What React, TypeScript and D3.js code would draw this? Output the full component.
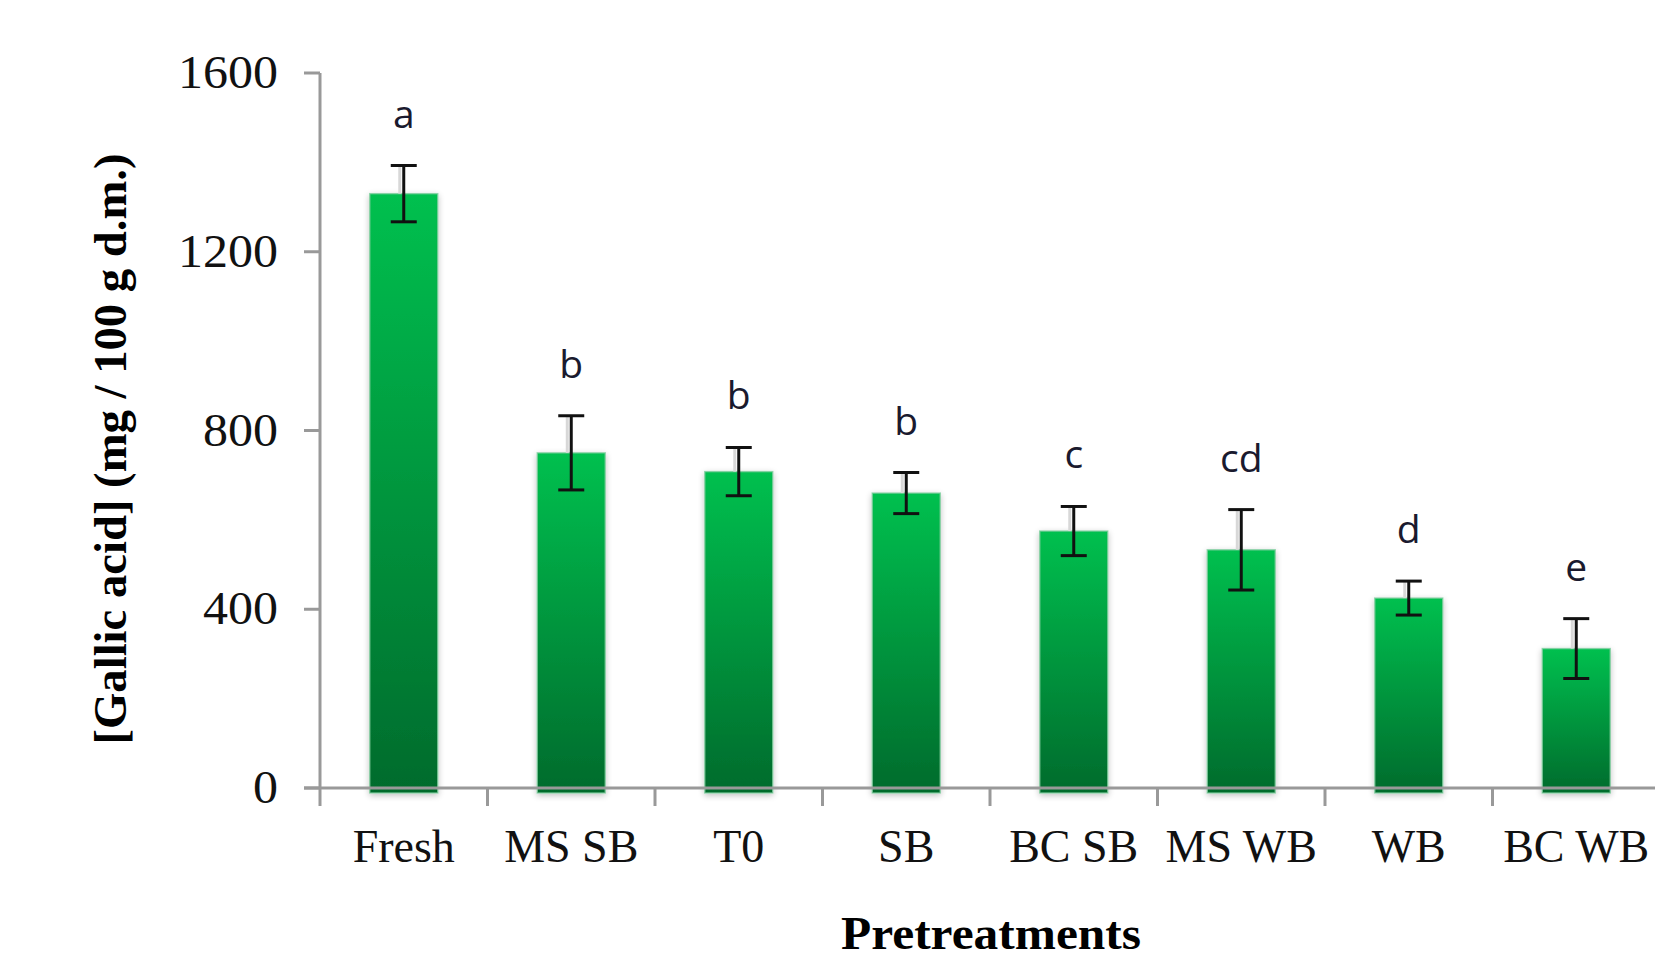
import React from "react";
import * as d3 from "d3";

const categories = ["Fresh", "MS SB", "T0", "SB", "BC SB", "MS WB", "WB", "BC WB"];
const values = [1330, 750, 708, 660, 575, 533, 425, 312];
const errors = [63, 83, 54, 46, 55, 90, 38, 67];
const letters = ["a", "b", "b", "b", "c", "cd", "d", "e"];
const yTicks = [0, 400, 800, 1200, 1600];
const yTitle = "[Gallic acid] (mg / 100 g d.m.)";
const xTitle = "Pretreatments";

export default function App() {
  const W = 1655;
  const H = 960;
  const pad = 0.594;
  const x = d3
    .scaleBand<string>()
    .domain(categories)
    .range([320, 1660])
    .paddingInner(pad)
    .paddingOuter(pad / 2);
  const y = d3.scaleLinear().domain([0, 1600]).range([788, 73]);
  const step = x.step();
  const bw = x.bandwidth();
  const axisColor = "#999999";
  const serif = "'Liberation Serif', 'DejaVu Serif', serif";
  const sans = "'Open Sans', 'Noto Sans', sans-serif";

  return (
    <svg
      width={W}
      height={H}
      viewBox={`0 0 ${W} ${H}`}
      style={{ position: "absolute", left: 0, top: 0, background: "#fff" }}
    >
      <defs>
        <linearGradient id="barGrad" x1="0" y1="0" x2="0" y2="1">
          <stop offset="0%" stopColor="#00c04f" />
          <stop offset="100%" stopColor="#006b2c" />
        </linearGradient>
        <filter id="shadow" x="-30%" y="-10%" width="160%" height="130%">
          <feGaussianBlur in="SourceAlpha" stdDeviation="3" />
          <feOffset dx="0" dy="2" result="b" />
          <feComponentTransfer>
            <feFuncA type="linear" slope="0.25" />
          </feComponentTransfer>
          <feMerge>
            <feMergeNode />
            <feMergeNode in="SourceGraphic" />
          </feMerge>
        </filter>
      </defs>
      <rect x={0} y={0} width={W} height={H} fill="#fff" />

      {/* bars */}
      {categories.map((c, i) => (
        <rect
          key={"bar" + c}
          x={x(c)!}
          y={y(values[i])}
          width={bw}
          height={y(0) - y(values[i]) + 5}
          fill="url(#barGrad)"
          stroke="rgba(130,205,160,0.75)"
          strokeWidth={1.5}
          filter="url(#shadow)"
        />
      ))}

      {/* axes */}
      <line x1={320} x2={320} y1={y(1600)} y2={806} stroke={axisColor} strokeWidth={3} />
      <line x1={304} x2={W} y1={y(0)} y2={y(0)} stroke={axisColor} strokeWidth={3} />
      {yTicks.map((t) => (
        <line key={"yt" + t} x1={304} x2={320} y1={y(t)} y2={y(t)} stroke={axisColor} strokeWidth={3} />
      ))}
      {categories.slice(1).map((c) => (
        <line
          key={"xt" + c}
          x1={x(c)! - (step * pad) / 2}
          x2={x(c)! - (step * pad) / 2}
          y1={y(0)}
          y2={806}
          stroke={axisColor}
          strokeWidth={3}
        />
      ))}

      {/* error bars */}
      {categories.map((c, i) => {
        const cx = x(c)! + bw / 2;
        const top = y(values[i] + errors[i]);
        const bot = y(values[i] - errors[i]);
        return (
          <g key={"err" + c}>
            <line x1={cx - 4} x2={cx - 4} y1={top} y2={y(values[i])} stroke="#d8d8d8" strokeWidth={3} />
            <line x1={cx} x2={cx} y1={top} y2={bot} stroke="#111" strokeWidth={3} />
            <line x1={cx - 13} x2={cx + 13} y1={top} y2={top} stroke="#111" strokeWidth={3} />
            <line x1={cx - 13} x2={cx + 13} y1={bot} y2={bot} stroke="#111" strokeWidth={3} />
          </g>
        );
      })}

      {/* significance letters */}
      {categories.map((c, i) => (
        <text
          key={"let" + c}
          x={x(c)! + bw / 2}
          y={y(values[i] + errors[i]) - 38}
          textAnchor="middle"
          fontFamily={sans}
          fontSize={39}
          fill="#1a1a2e"
        >
          {letters[i]}
        </text>
      ))}

      {/* y tick labels */}
      {yTicks.map((t) => (
        <text
          key={"yl" + t}
          x={278}
          y={y(t) + 15}
          textAnchor="end"
          fontFamily={serif}
          fontSize={46}
          fill="#111"
          textLength={String(t).length * 25}
          lengthAdjust="spacingAndGlyphs"
        >
          {t}
        </text>
      ))}

      {/* x labels */}
      {categories.map((c) => (
        <text
          key={"xl" + c}
          x={x(c)! + bw / 2}
          y={862}
          textAnchor="middle"
          fontFamily={serif}
          fontSize={46}
          fill="#111"
        >
          {c}
        </text>
      ))}

      {/* axis titles */}
      <text
        transform={`translate(126, 449) rotate(-90)`}
        textAnchor="middle"
        fontFamily={serif}
        fontWeight="bold"
        fontSize={46}
        fill="#000"
        textLength={591}
        lengthAdjust="spacingAndGlyphs"
      >
        {yTitle}
      </text>
      <text
        x={991}
        y={949}
        textAnchor="middle"
        fontFamily={serif}
        fontWeight="bold"
        fontSize={46}
        fill="#000"
        textLength={300}
        lengthAdjust="spacingAndGlyphs"
      >
        {xTitle}
      </text>
    </svg>
  );
}
